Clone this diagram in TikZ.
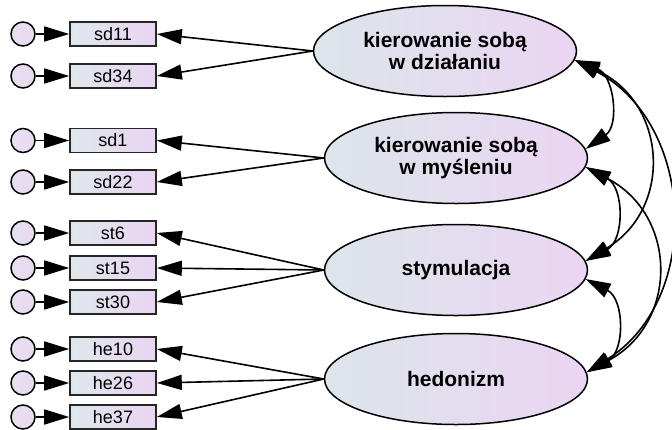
\documentclass[tikz,border=0pt]{standalone}
\usepackage{fontspec}
\setmainfont{Liberation Sans}
\usetikzlibrary{shapes.geometric,arrows.meta}
\definecolor{latL}{HTML}{DCE5EA}
\definecolor{latR}{HTML}{EBD5F3}
\definecolor{obsL}{HTML}{DEE7EC}
\definecolor{obsR}{HTML}{EAD5F2}
\definecolor{errL}{HTML}{E6E0EE}
\definecolor{errR}{HTML}{EBD9F2}
\begin{document}
\begin{tikzpicture}[x=1pt,y=-1pt,
  latent/.style={ellipse, draw=black, line width=1.5pt, shade, left color=latL, right color=latR,
    minimum width=263pt, minimum height=91pt, inner sep=0pt, align=center,
    font=\fontsize{21}{22}\selectfont\bfseries},
  observed/.style={rectangle, draw=black!85, line width=1.6pt, shade, left color=obsL, right color=obsR,
    minimum width=86pt, minimum height=24pt, inner sep=0pt, font=\fontsize{18}{18}\selectfont},
  errorterm/.style={circle, draw=black, line width=1.5pt, shade, left color=errL, right color=errR,
    minimum size=24pt, inner sep=0pt},
  load/.style={-{Triangle[length=25pt,width=15pt]}, line width=1.6pt},
  cov/.style={{Triangle[length=25pt,width=15pt]}-{Triangle[length=25pt,width=15pt]},
    line width=1.6pt, bend left=62, looseness=1.2}
]
\useasboundingbox (0,0) rectangle (672,429);

% latent factors
\node[latent] (E1) at (445,51)  {kierowanie sobą\\w działaniu};
\node[latent] (E2) at (456,158) {kierowanie sobą\\w myśleniu};
\node[latent] (E3) at (456,270) {stymulacja};
\node[latent] (E4) at (456,379) {hedonizm};

% observed indicators with their error terms
\foreach \name/\y/\f in {sd11/34/E1, sd34/76/E1, sd1/140.5/E2, sd22/182/E2,
    st6/233/E3, st15/268/E3, st30/302/E3, he10/349/E4, he26/383/E4, he37/417/E4} {
  \node[observed] (\name) at (113,\y) {\name};
  \node[errorterm] (e-\name) at (23,\y) {};
  \draw[load] (e-\name) -- (\name);
  \draw[load] (\f.west) -- (\name.east);
}

% covariances between the factors
\draw[cov] (E1.-4) to (E2.4);
\draw[cov] (E2.-4) to (E3.4);
\draw[cov] (E3.-4) to (E4.3);
\draw[cov, looseness=1.3] (E1.-4) to (E3.4);
\draw[cov, looseness=1.3] (E2.-4) to (E4.3);
\draw[cov, bend left=60, looseness=1.12] (E1.-4) to (E4.3);
\end{tikzpicture}
\end{document}
